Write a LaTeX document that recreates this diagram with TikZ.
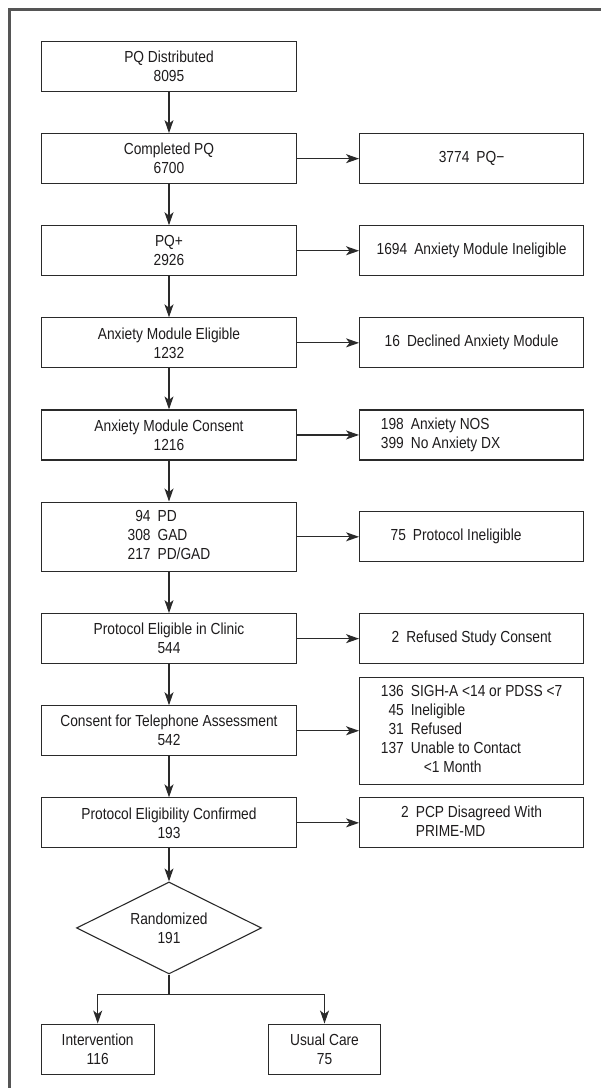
\documentclass[tikz,border=0pt]{standalone}
\usepackage{fontspec}
\setmainfont{Liberation Sans}[FakeStretch=0.86]
\usetikzlibrary{positioning,arrows.meta,calc,shapes.geometric}
\definecolor{cLine}{HTML}{2A2A2A}
\definecolor{cFrame}{HTML}{555555}
\definecolor{cText}{HTML}{1E1C1D}
\newcommand{\numgap}{\hspace{7pt}}
\tikzset{
  stepBox/.style={draw=cLine, line width=1.1pt, fill=white, text=cText,
                  font=\fontsize{16pt}{19pt}\selectfont, align=center,
                  minimum width=255pt, minimum height=50pt, inner sep=4pt},
  sideBox/.style={stepBox, minimum width=224pt},
  armBox/.style={stepBox, minimum width=113pt},
  randBox/.style={stepBox, diamond, aspect=2, inner sep=0pt,
                  minimum width=185pt, minimum height=92pt},
  flow/.style={draw=cLine, line width=1.1pt,
               -{Stealth[length=13pt,width=9pt,inset=3.5pt]}},
  frameLine/.style={draw=cFrame, line width=2.2pt},
}

\begin{document}
\begin{tikzpicture}[x=1pt,y=-1pt]
\useasboundingbox (0,0) rectangle (601,1088);

% ========== FRAME ==========
\draw[frameLine] (9.5,1088) -- (9.5,9.5) -- (601,9.5);

% ========== MAIN COLUMN ==========
\node[stepBox, anchor=north] (pqd) at (169,41) {PQ Distributed\\8095};
\node[stepBox, below=41pt of pqd] (cpq) {Completed PQ\\6700};
\node[stepBox, below=41pt of cpq] (pqp) {PQ+\\2926};
\node[stepBox, below=41pt of pqp] (ame) {Anxiety Module Eligible\\1232};
\node[stepBox, below=41pt of ame] (amc) {Anxiety Module Consent\\1216};
\node[stepBox, below=41pt of amc, minimum height=69.5pt] (pdg)
  {\begin{tabular}{@{}r@{\numgap}l@{}}94 & PD\\ 308 & GAD\\ 217 & PD/GAD\end{tabular}};
\node[stepBox, below=41pt of pdg] (pec) {Protocol Eligible in Clinic\\544};
\node[stepBox, below=41pt of pec] (cta) {Consent for Telephone Assessment\\542};
\node[stepBox, below=41pt of cta] (pecf) {Protocol Eligibility Confirmed\\193};
\node[randBox, below=33pt of pecf] (rand) {Randomized\\191};

% ========== EXCLUSIONS ==========
\node[sideBox, right=62pt of cpq] (xcpq) {3774\numgap PQ−};
\node[sideBox, right=62pt of pqp] (xpqp) {1694\numgap Anxiety Module Ineligible};
\node[sideBox, right=62pt of ame] (xame) {16\numgap Declined Anxiety Module};
\node[sideBox, right=62pt of amc] (xamc)
  {\begin{tabular}{@{}r@{\numgap}l@{\hspace{62pt}}}198 & Anxiety NOS\\ 399 & No Anxiety DX\end{tabular}};
\node[sideBox, right=62pt of pdg] (xpdg)
  {\begin{tabular}{@{}r@{\numgap}l@{\hspace{31pt}}}75 & Protocol Ineligible\end{tabular}};
\node[sideBox, right=62pt of pec] (xpec) {2\numgap Refused Study Consent};
\node[sideBox, right=62pt of cta, minimum height=107.4pt] (xcta)
  {\begin{tabular}{@{}r@{\numgap}l@{}}136 & SIGH-A <14 or PDSS <7\\ 45 & Ineligible\\
   31 & Refused\\ 137 & Unable to Contact\\ & \hspace{13pt}<1 Month\end{tabular}};
\node[sideBox, right=62pt of pecf] (xpecf)
  {\begin{tabular}{@{}r@{\numgap}l@{}}2 & PCP Disagreed With\\ & PRIME-MD\end{tabular}};

% ========== ARMS ==========
\coordinate (split) at ($(rand.south)+(0,20)$);
\node[armBox, anchor=north] (interv) at ($(rand.south)+(-71.3,49)$) {Intervention\\116};
\node[armBox, anchor=north, minimum width=112pt] (usual) at ($(rand.south)+(155.5,49)$) {Usual Care\\75};

% ========== CONNECTORS ==========
\foreach \a/\b in {pqd/cpq, cpq/pqp, pqp/ame, ame/amc, amc/pdg, pdg/pec, pec/cta, cta/pecf, pecf/rand}
  \draw[flow] (\a) -- (\b);
\foreach \a in {cpq, pqp, ame, amc, pdg, pec, cta, pecf}
  \draw[flow] (\a) -- (x\a);
\draw[draw=cLine, line width=1.1pt] (rand.south) -- (split);
\draw[flow] (split) -| (interv.north);
\draw[flow] (split) -| (usual.north);

\end{tikzpicture}
\end{document}
